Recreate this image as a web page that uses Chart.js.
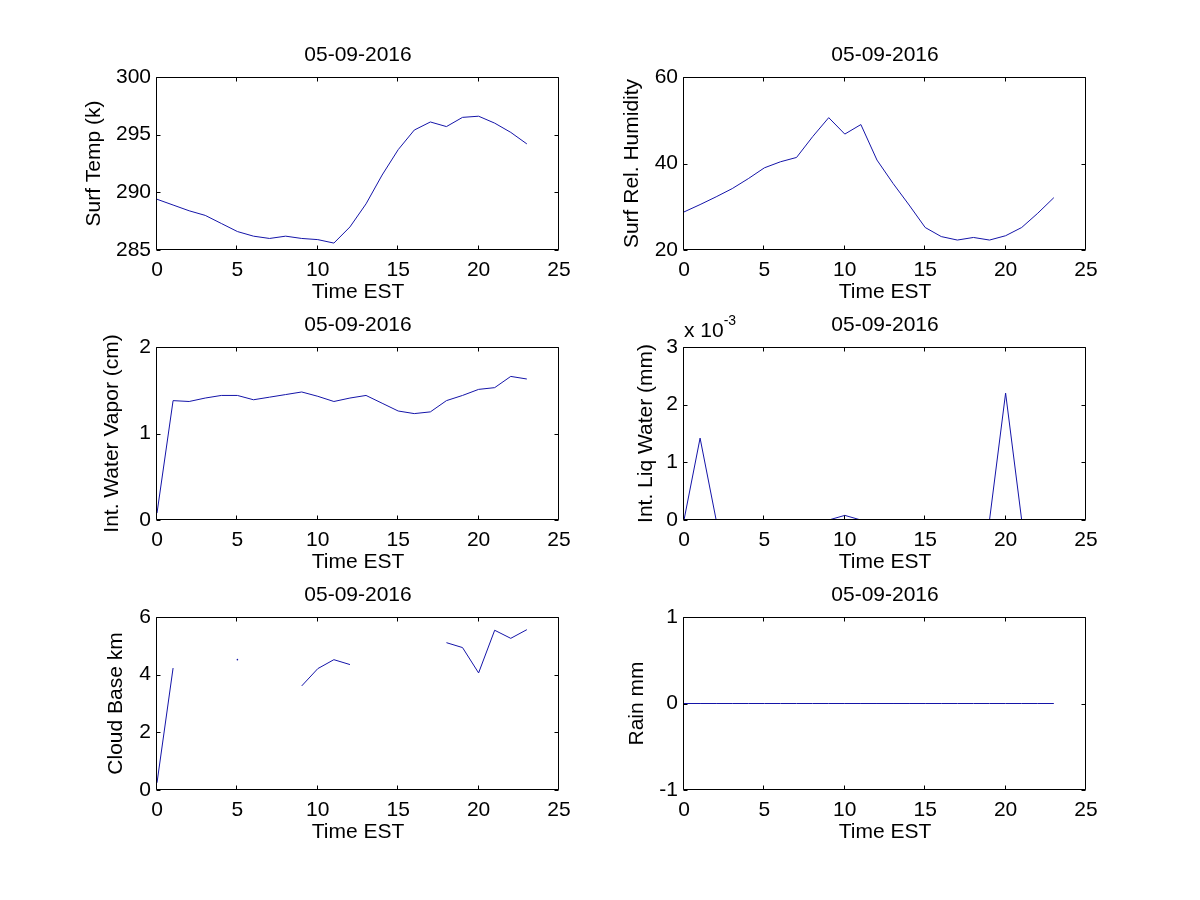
<!DOCTYPE html>
<html lang="en">
<head>
  <meta charset="UTF-8">
  <title>05-09-2016</title>
  <style>
    body {
      margin: 0;
      background: #fff;
    }
    #fig {
      position: relative;
      width: 1200px;
      height: 900px;
    }
    .panel {
      position: absolute;
    }
  </style>
  <script src="https://cdn.jsdelivr.net/npm/chart.js"></script>
</head>
<body>
  <div id="fig"></div>

  <script>
    // Hourly values (hour 0..23, EST)
    const hours = [0, 1, 2, 3, 4, 5, 6, 7, 8, 9, 10, 11, 12, 13, 14, 15, 16, 17, 18, 19, 20, 21, 22, 23];
    const surfTemp = [289.4, 288.9, 288.4, 288.0, 287.3, 286.6, 286.2, 286.0, 286.2, 286.0, 285.9, 285.6,
                      287.0, 289.0, 291.5, 293.7, 295.4, 296.1, 295.7, 296.5, 296.6, 296.0, 295.2, 294.2];
    const surfRelHum = [28.8, 30.5, 32.3, 34.2, 36.5, 39.0, 40.4, 41.4, 46.2, 50.6, 46.8, 49.0,
                        40.8, 35.4, 30.4, 25.2, 23.1, 22.3, 22.9, 22.3, 23.3, 25.2, 28.5, 32.1];
    const waterVapor = [0.08, 1.38, 1.37, 1.41, 1.44, 1.44, 1.39, 1.42, 1.45, 1.48, 1.43, 1.37,
                        1.41, 1.44, 1.35, 1.26, 1.23, 1.25, 1.38, 1.44, 1.51, 1.53, 1.66, 1.63];
    const liqWater = [0, 0.00142, 0, 0, 0, 0, 0, 0, 0, 0, 0.00008, 0,
                      0, 0, 0, 0, 0, 0, 0, 0, 0.0022, 0, 0, 0];
    const cloudBase = [0.25, 4.23, null, null, null, 4.52, null, null, null, 3.61, 4.21, 4.52,
                       4.35, null, null, null, null, null, 5.11, 4.94, 4.06, 5.54, 5.26, 5.56];
    const rain = [0, 0, 0, 0, 0, 0, 0, 0, 0, 0, 0, 0,
                  0, 0, 0, 0, 0, 0, 0, 0, 0, 0, 0, 0];

    const dateTitle = '05-09-2016';
    const xLabel = 'Time EST';
    const xTicks = [0, 5, 10, 15, 20, 25];

    const FONT = '"Liberation Sans", Arial, Helvetica, sans-serif';
    const LINE_COLOR = '#1414a8';

    // plot box geometry (px in the 1200x900 figure)
    const PLOT_W = 402, PLOT_H = 173;
    const PAD_TOP = 40, PAD_RIGHT = 20, X_AXIS_H = 60;

    const panels = [
      { values: surfTemp,   yLabel: 'Surf Temp (k)',         min: 285, max: 300,  step: 5,     left: 157, top: 77,  yTitleOff: 62 },
      { values: surfRelHum, yLabel: 'Surf Rel. Humidity',    min: 20,  max: 60,   step: 20,    left: 684, top: 77,  yTitleOff: 51 },
      { values: waterVapor, yLabel: 'Int. Water Vapor (cm)', min: 0,   max: 2,    step: 1,     left: 157, top: 347, yTitleOff: 44 },
      { values: liqWater,   yLabel: 'Int. Liq Water (mm)',   min: 0,   max: 0.003, step: 0.001, left: 684, top: 347, yTitleOff: 37, exponent: '-3' },
      { values: cloudBase,  yLabel: 'Cloud Base km',         min: 0,   max: 6,    step: 2,     left: 157, top: 617, yTitleOff: 40 },
      { values: rain,       yLabel: 'Rain mm',               min: -1,  max: 1,    step: 1,     left: 684, top: 617, yTitleOff: 46 }
    ];

    // MATLAB-like box: frame on all four sides with inward ticks, title and exponent label
    const matlabAxes = {
      id: 'matlabAxes',
      afterDraw(chart, args, opts) {
        const { ctx, chartArea: a, scales } = chart;
        const L = Math.round(a.left) - 0.5;
        const R = Math.round(a.right) - 0.5;
        const T = Math.round(a.top) + 0.5;
        const B = Math.round(a.bottom) - 0.5;
        const tl = 4;
        ctx.save();
        ctx.strokeStyle = '#000';
        ctx.lineWidth = 1;
        ctx.beginPath();
        ctx.rect(L, T, R - L, B - T);
        scales.x.ticks.forEach(t => {
          const px = Math.round(scales.x.getPixelForValue(t.value)) - 0.5;
          ctx.moveTo(px, B); ctx.lineTo(px, B - tl);
          ctx.moveTo(px, T); ctx.lineTo(px, T + tl);
        });
        scales.y.ticks.forEach(t => {
          const py = Math.round(scales.y.getPixelForValue(t.value)) + 0.5;
          ctx.moveTo(L, py); ctx.lineTo(L + tl, py);
          ctx.moveTo(R, py); ctx.lineTo(R - tl, py);
        });
        ctx.stroke();

        ctx.fillStyle = '#000';
        ctx.font = '21px ' + FONT;
        ctx.textAlign = 'center';
        ctx.textBaseline = 'alphabetic';
        ctx.fillText(opts.title, (a.left + a.right) / 2, a.top - 16);

        if (opts.exponent) {
          ctx.textAlign = 'left';
          const base = 'x 10';
          ctx.fillText(base, a.left, a.top - 10);
          const w = ctx.measureText(base).width;
          ctx.font = '14px ' + FONT;
          ctx.fillText(opts.exponent, a.left + w, a.top - 22);
        }
        ctx.restore();
      }
    };

    const fig = document.getElementById('fig');

    panels.forEach((p, i) => {
      const yAxisW = Math.round(p.yTitleOff + 12.6);
      const div = document.createElement('div');
      div.className = 'panel';
      div.style.left = (p.left - yAxisW) + 'px';
      div.style.top = (p.top - PAD_TOP) + 'px';
      div.style.width = (yAxisW + PLOT_W + PAD_RIGHT) + 'px';
      div.style.height = (PAD_TOP + PLOT_H + X_AXIS_H) + 'px';
      const canvas = document.createElement('canvas');
      canvas.id = 'panel_' + i;
      div.appendChild(canvas);
      fig.appendChild(div);

      const points = hours.map((h, k) => ({ x: h, y: p.values[k] }));
      const isolated = k => p.values[k] !== null &&
        (k === 0 || p.values[k - 1] === null) &&
        (k === p.values.length - 1 || p.values[k + 1] === null);

      new Chart(canvas.getContext('2d'), {
        type: 'line',
        data: {
          datasets: [{
            data: points,
            borderColor: LINE_COLOR,
            backgroundColor: LINE_COLOR,
            borderWidth: 1,
            tension: 0,
            fill: false,
            spanGaps: false,
            pointRadius: ctx => isolated(ctx.dataIndex) ? 0.8 : 0,
            pointBorderWidth: 0
          }]
        },
        options: {
          responsive: true,
          maintainAspectRatio: false,
          animation: false,
          events: [],
          layout: {
            padding: { top: PAD_TOP, right: PAD_RIGHT, left: 0, bottom: 0 }
          },
          scales: {
            x: {
              type: 'linear',
              min: 0,
              max: 25,
              afterBuildTicks: axis => { axis.ticks = xTicks.map(v => ({ value: v })); },
              afterFit: axis => { axis.height = X_AXIS_H; },
              grid: { display: false, drawTicks: false },
              border: { display: false },
              ticks: {
                autoSkip: false,
                maxRotation: 0,
                padding: 8,
                color: '#000',
                font: { family: FONT, size: 21 }
              },
              title: {
                display: true,
                text: xLabel,
                color: '#000',
                padding: { top: 0, bottom: 5 },
                font: { family: FONT, size: 21 }
              }
            },
            y: {
              min: p.min,
              max: p.max,
              afterFit: axis => { axis.width = yAxisW; },
              grid: { display: false, drawTicks: false },
              border: { display: false },
              ticks: {
                stepSize: p.step,
                autoSkip: false,
                padding: 6,
                color: '#000',
                font: { family: FONT, size: 21 },
                callback: v => p.exponent ? String(Math.round(v * 1000)) : String(v)
              },
              title: {
                display: true,
                text: p.yLabel,
                color: '#000',
                padding: 0,
                font: { family: FONT, size: 21 }
              }
            }
          },
          plugins: {
            legend: { display: false },
            tooltip: { enabled: false },
            matlabAxes: { title: dateTitle, exponent: p.exponent }
          }
        },
        plugins: [matlabAxes]
      });
    });
  </script>
</body>
</html>
